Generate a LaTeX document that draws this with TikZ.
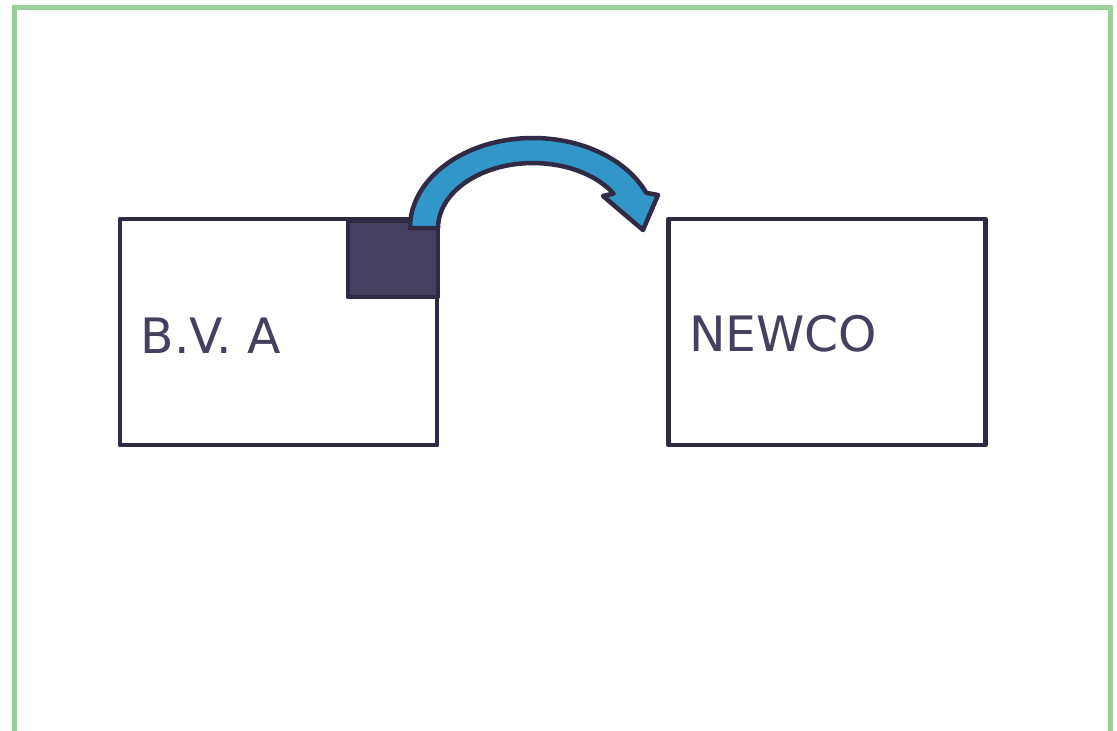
\documentclass[tikz,border=0pt]{standalone}
\usepackage{fontspec}
\setmainfont{DejaVu Sans}
\definecolor{frame}{RGB}{156,207,154}
\definecolor{ink}{RGB}{48,42,69}
\definecolor{txt}{RGB}{69,64,96}
\definecolor{sq}{RGB}{69,64,96}
\definecolor{arrowblue}{RGB}{51,150,200}
\begin{document}
\begin{tikzpicture}[x=1pt,y=-1pt,
  entity/.style={draw=ink, line width=4.5pt, line join=round, fill=white,
    minimum width=317pt, minimum height=226pt, inner sep=0pt},
  label/.style={text=txt, font=\fontsize{48.8}{58}\selectfont, inner sep=0pt},
  marker/.style={draw=ink, line width=4.5pt, line join=round, fill=sq,
    minimum width=90pt, minimum height=76pt, inner sep=0pt},
  bigarrow/.style={draw=ink, line width=4.5pt, line join=round, fill=arrowblue}]
\useasboundingbox (0,0) rectangle (1117,731);
\fill[white] (0,0) rectangle (1117,731);
\draw[frame, line width=5pt] (14.3,760) -- (14.3,7) -- (1110.5,7) -- (1110.5,760);
\node[entity] (bva) at (278.5,332) {};
\node[entity] (newco) at (827,332) {};
\node[label, anchor=base west] (bvalabel) at (140.5,353) {B.V. A};
\node[label, anchor=base west] (newcolabel) at (689,351) {NEWCO};
\node[marker] (share) at (393,259) {};
\path[bigarrow] (410,228) arc[start angle=-180, end angle=-23, x radius=123, y radius=90]
  -- (658,195) -- (643,230) -- (603,196) -- (613.6,193.6)
  arc[start angle=-32, end angle=-180, x radius=95, y radius=65] -- cycle;
\end{tikzpicture}
\end{document}
